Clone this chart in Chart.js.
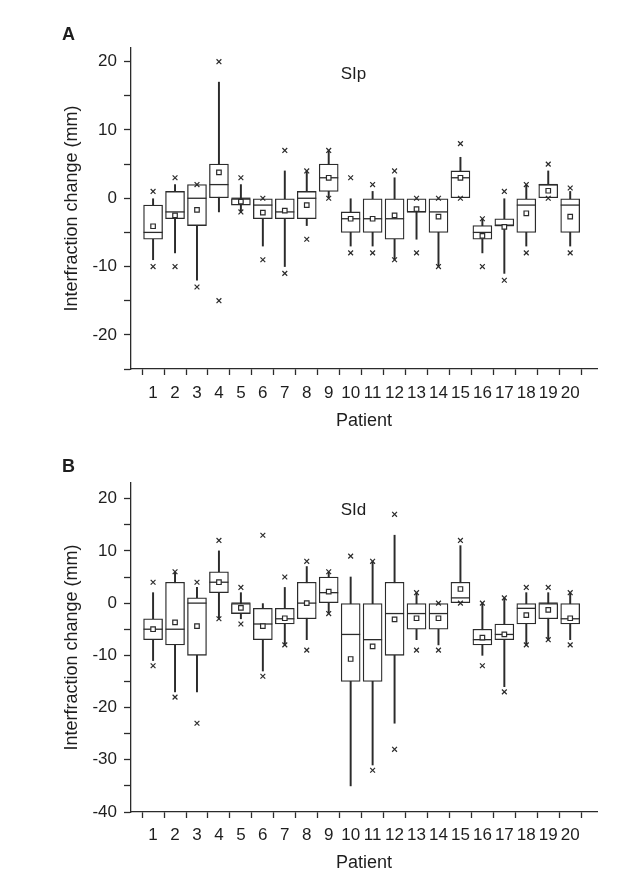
<!DOCTYPE html>
<html><head><meta charset="utf-8">
<script src="https://cdn.jsdelivr.net/npm/chart.js@4"></script>
<style>
html,body{margin:0;padding:0;background:#fff;}
body{width:625px;height:878px;position:relative;overflow:hidden;}
canvas{position:absolute;left:0;}
</style></head><body>
<canvas id="ca" width="625" height="440" style="top:0"></canvas>
<canvas id="cb" width="625" height="438" style="top:440px"></canvas>
<script>
const patients = [1,2,3,4,5,6,7,8,9,10,11,12,13,14,15,16,17,18,19,20];

// Panel A: SIp
const sipMin          = [-10,-10,-13,-15,-2,-9,-11,-6,0,-8,-8,-9,-8,-10,0,-10,-12,-8,0,-8];
const sipWhiskerLow   = [-9,-8,-12,-2,-2,-7,-10,-4,0,-7,-7,-9,-6,-10,0,-8,-11,-7,0,-7];
const sipQ1           = [-6,-3,-4,0,-1,-3,-3,-3,1,-5,-5,-6,-2,-5,0,-6,-4,-5,0,-5];
const sipMedian       = [-5,-2,0,2,0,-1,-2,0,3,-3,-3,-3,-2,-2,3,-5,-4,-1,2,-1];
const sipQ3           = [-1,1,2,5,0,0,0,1,5,-2,0,0,0,0,4,-4,-3,0,2,0];
const sipWhiskerHigh  = [0,2,2,17,2,0,4,4,7,0,1,3,0,0,6,-3,0,2,4,1];
const sipMax          = [1,3,2,20,3,0,7,4,7,3,2,4,0,0,8,-3,1,2,5,1.5];
const sipMean         = [-4.1,-2.5,-1.7,3.8,-0.5,-2.1,-1.8,-1,3,-3,-3,-2.5,-1.6,-2.7,3,-5.5,-4.2,-2.2,1.1,-2.7];
const sipTicks        = [-25,-20,-15,-10,-5,0,5,10,15,20];

// Panel B: SId
const sidMin          = [-12,-18,-23,-3,-4,-14,-8,-9,-2,null,-32,-28,-9,-9,0,-12,-17,-8,-7,-8];
const sidWhiskerLow   = [-11,-17,-17,-3,-3,-13,-8,-7,-2,-35,-31,-23,-7,-8,0,-10,-16,-8,-7,-7];
const sidQ1           = [-7,-8,-10,2,-2,-7,-4,-3,0,-15,-15,-10,-5,-5,0,-8,-7,-4,-3,-4];
const sidMedian       = [-5,-5,0,4,0,-4,-3,0,2,-6,-7,-2,-2,-2,1,-7,-6,-1,0,-3];
const sidQ3           = [-3,4,1,6,0,-1,-1,4,5,0,0,4,0,0,4,-5,-4,0,0,0];
const sidWhiskerHigh  = [2,6,3,10,2,0,3,7,6,5,8,13,2,0,11,0,1,2,2,2];
const sidMax          = [4,6,4,12,3,13,5,8,6,9,8,17,2,0,12,0,1,3,3,2];
const sidMean         = [-5,-3.7,-4.4,4,-0.9,-4.4,-2.9,0,2.2,-10.7,-8.3,-3.1,-2.9,-2.9,2.7,-6.6,-6,-2.3,-1.3,-2.9];
const sidTicks        = [-40,-35,-30,-25,-20,-15,-10,-5,0,5,10,15,20];

const FONT = "'Liberation Sans', Arial, Helvetica, sans-serif";
const INK = '#2b2b2b';
const TXT = '#1e1e1e';

function pts(vals){ return patients.map((p,i)=>({x:p, y:vals[i]})); }
function rng(a,b){ return patients.map((p,i)=>({x:p, y:[a[i], b[i]]})); }

function makeChart(id, d){
  const textPlugin = {
    id:'panelText',
    afterDraw(chart){
      const ctx = chart.ctx;
      ctx.save();
      ctx.fillStyle = TXT;
      ctx.textBaseline = 'alphabetic';
      ctx.textAlign = 'left';
      ctx.font = 'bold 18px ' + FONT;
      ctx.fillText(d.letter, 62, d.letterY);
      ctx.textAlign = 'center';
      ctx.font = '17px ' + FONT;
      ctx.fillText(d.label, 353.5, d.labelY);
      ctx.restore();
    }
  };
  return new Chart(document.getElementById(id), {
    type:'bar',
    data:{
      datasets:[
        { type:'line', showLine:false, data:pts(d.mean), pointStyle:'rect', pointRadius:3.2, pointBorderWidth:1.2,
          pointBackgroundColor:'#fff', pointBorderColor:INK, pointHoverRadius:3.2 },
        { type:'line', showLine:false, data:pts(d.median), pointStyle:'line', pointRadius:9.5, pointBorderWidth:1.3,
          pointBorderColor:INK, pointHoverRadius:9.5 },
        { type:'line', showLine:false, data:pts(d.max), pointStyle:'crossRot', pointRadius:3.4, pointBorderWidth:1.2,
          pointBorderColor:INK },
        { type:'line', showLine:false, data:pts(d.min), pointStyle:'crossRot', pointRadius:3.4, pointBorderWidth:1.2,
          pointBorderColor:INK },
        { type:'bar', data:rng(d.q1, d.q3), barThickness:19, grouped:false, backgroundColor:'#fff',
          borderColor:INK, borderWidth:1.3, borderSkipped:false },
        { type:'bar', data:rng(d.wl, d.wh), barThickness:1.3, grouped:false, backgroundColor:INK,
          borderWidth:0 }
      ]
    },
    options:{
      responsive:false, animation:false,
      layout:{ padding:{ left:0, right:28, top:d.padTop, bottom:0 } },
      plugins:{ legend:{display:false}, tooltip:{enabled:false} },
      scales:{
        x:{
          type:'linear', min:0.525, max:20.69,
          afterBuildTicks: s => { s.ticks = patients.map(p=>({value:p})); },
          afterFit: s => { s.height = d.xH; },
          border:{ display:true, color:INK, width:1.3 },
          grid:{ display:true, drawOnChartArea:false, drawTicks:true, tickLength:6, tickColor:INK, tickWidth:1.3 },
          ticks:{ autoSkip:false, maxRotation:0, padding:d.xTickPad, color:TXT, font:{family:FONT, size:17} },
          title:{ display:true, text:'Patient', color:TXT, font:{family:FONT, size:18}, padding:{top:0, bottom:d.xTitlePad} }
        },
        y:{
          type:'linear', min:d.yMin, max:d.yMax,
          afterBuildTicks: s => { s.ticks = d.ticks.map(v=>({value:v})); },
          afterFit: s => { s.width = 131; },
          border:{ display:true, color:INK, width:1.3 },
          grid:{ display:true, drawOnChartArea:false, drawTicks:true, tickLength:7, tickColor:INK, tickWidth:1.3 },
          ticks:{ padding:7, color:TXT, font:{family:FONT, size:17},
                  callback: v => (v % 10 === 0 ? String(v) : '') },
          title:{ display:true, text:'Interfraction change (mm)', color:TXT, font:{family:FONT, size:18}, padding:{top:61, bottom:0} }
        }
      }
    },
    plugins:[textPlugin]
  });
}

makeChart('ca', { min:sipMin, wl:sipWhiskerLow, q1:sipQ1, median:sipMedian, q3:sipQ3, wh:sipWhiskerHigh, max:sipMax, mean:sipMean,
  ticks:sipTicks, yMin:-25, yMax:22, padTop:48, xH:71, xTitlePad:8, xTickPad:8, letter:'A', letterY:40, label:'SIp', labelY:79 });
makeChart('cb', { min:sidMin, wl:sidWhiskerLow, q1:sidQ1, median:sidMedian, q3:sidQ3, wh:sidWhiskerHigh, max:sidMax, mean:sidMean,
  ticks:sidTicks, yMin:-40, yMax:23, padTop:43, xH:66, xTitlePad:4, xTickPad:7, letter:'B', letterY:32, label:'SId', labelY:75 });
</script>
</body></html>
